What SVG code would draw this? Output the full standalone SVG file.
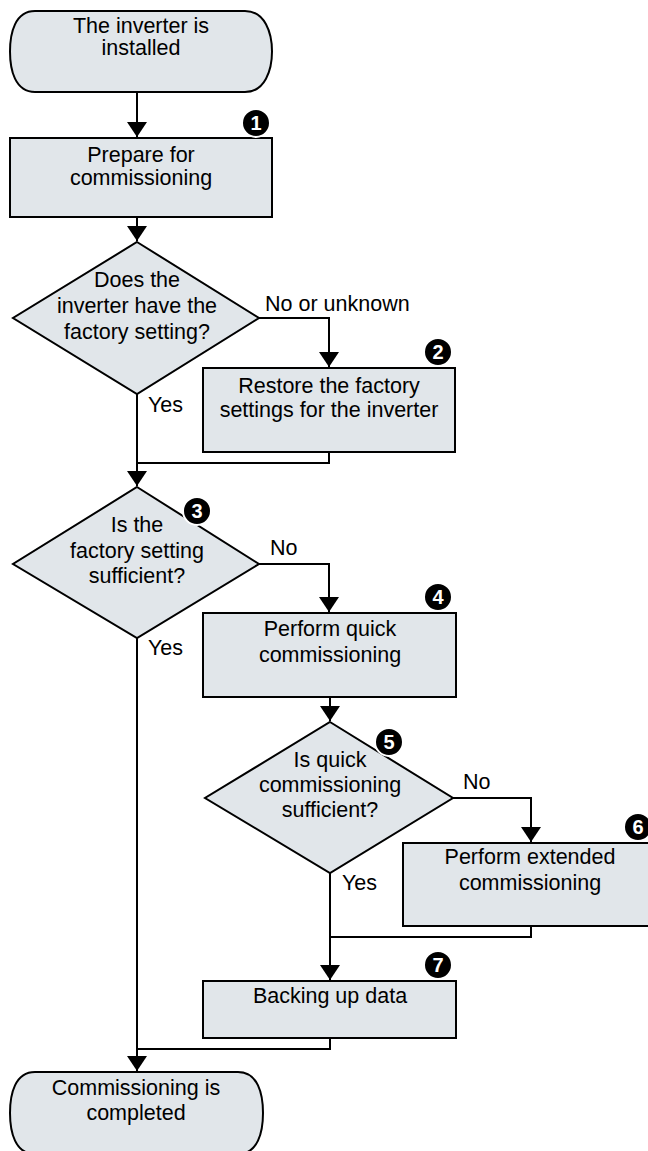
<svg xmlns="http://www.w3.org/2000/svg" width="648" height="1151" viewBox="0 0 648 1151">
<style>
.shape{fill:#e1e6ea;stroke:#000;stroke-width:2}
.t{font-family:"Liberation Sans",Arial,sans-serif;font-size:21.5px;fill:#000;text-anchor:middle}
.lbl{font-family:"Liberation Sans",Arial,sans-serif;font-size:21.5px;fill:#000}
.conn{fill:none;stroke:#000;stroke-width:2}
.badge circle{fill:#000;stroke:#fff;stroke-width:2}
.badge text{font-family:"Liberation Sans",Arial,sans-serif;font-size:20px;font-weight:bold;fill:#fff;text-anchor:middle}
</style>
<defs>
<marker id="arr" markerWidth="15" markerHeight="20" refX="15" refY="10" orient="auto" markerUnits="userSpaceOnUse" viewBox="0 0 15 20">
<path d="M0,0 L15,10 L0,20 Z" fill="#000"/>
</marker>
</defs>
<rect width="648" height="1151" fill="#fff"/>
<g id="connectors">
<path class="conn" d="M137,92 V137" marker-end="url(#arr)"/>
<path class="conn" d="M137,217 V241" marker-end="url(#arr)"/>
<path class="conn" d="M259,318 H329 V367" marker-end="url(#arr)"/>
<path class="conn" d="M137,394 V486" marker-end="url(#arr)"/>
<path class="conn" d="M329,452 V463 H137"/>
<path class="conn" d="M259,564 H329 V612" marker-end="url(#arr)"/>
<path class="conn" d="M137,638 V1071" marker-end="url(#arr)"/>
<path class="conn" d="M330,697 V721" marker-end="url(#arr)"/>
<path class="conn" d="M453,798 H531 V842" marker-end="url(#arr)"/>
<path class="conn" d="M330,873 V980" marker-end="url(#arr)"/>
<path class="conn" d="M531,926 V937 H330"/>
<path class="conn" d="M330,1038 V1049 H137"/>
<text class="lbl" x="265" y="311">No or unknown</text>
<text class="lbl" x="148" y="412">Yes</text>
<text class="lbl" x="270" y="555">No</text>
<text class="lbl" x="148" y="655">Yes</text>
<text class="lbl" x="463" y="789">No</text>
<text class="lbl" x="342" y="890">Yes</text>
</g>
<g id="start">
<path class="shape" d="M35,11 H245 C265,11 272,33 272,51.5 C272,70 265,92 245,92 H35 C15,92 10,70 10,51.5 C10,33 15,11 35,11 Z"/>
<text class="t" x="141" y="33">The inverter is</text>
<text class="t" x="141" y="55">installed</text>
</g>
<g id="step1">
<rect class="shape" x="10" y="138" width="262" height="79"/>
<text class="t" x="141" y="162">Prepare for</text>
<text class="t" x="141" y="185">commissioning</text>
<g class="badge"><circle cx="256" cy="123" r="14"/><text x="256" y="130">1</text></g>
</g>
<g id="decision1">
<path class="shape" d="M137,242 L259,318 L137,394 L13,318 Z"/>
<text class="t" x="137" y="287">Does the</text>
<text class="t" x="137" y="313">inverter have the</text>
<text class="t" x="137" y="339">factory setting?</text>
</g>
<g id="step2">
<rect class="shape" x="203" y="368" width="252" height="84"/>
<text class="t" x="329" y="393">Restore the factory</text>
<text class="t" x="329" y="417">settings for the inverter</text>
<g class="badge"><circle cx="438" cy="352" r="14"/><text x="438" y="359">2</text></g>
</g>
<g id="decision2">
<path class="shape" d="M137,487 L259,564 L137,638 L13,564 Z"/>
<text class="t" x="137" y="532">Is the</text>
<text class="t" x="137" y="558">factory setting</text>
<text class="t" x="137" y="583">sufficient?</text>
<g class="badge"><circle cx="197" cy="511" r="14"/><text x="197" y="518">3</text></g>
</g>
<g id="step4">
<rect class="shape" x="203" y="613" width="253" height="84"/>
<text class="t" x="330" y="636">Perform quick</text>
<text class="t" x="330" y="662">commissioning</text>
<g class="badge"><circle cx="438" cy="597" r="14"/><text x="438" y="604">4</text></g>
</g>
<g id="decision3">
<path class="shape" d="M330,722 L453,798 L330,873 L205,798 Z"/>
<text class="t" x="330" y="767">Is quick</text>
<text class="t" x="330" y="792">commissioning</text>
<text class="t" x="330" y="817">sufficient?</text>
<g class="badge"><circle cx="389" cy="742" r="14"/><text x="389" y="749">5</text></g>
</g>
<g id="step6">
<rect class="shape" x="403" y="843" width="253" height="83"/>
<text class="t" x="530" y="864">Perform extended</text>
<text class="t" x="530" y="890">commissioning</text>
<g class="badge"><circle cx="638" cy="827" r="14"/><text x="638" y="834">6</text></g>
</g>
<g id="step7">
<rect class="shape" x="203" y="981" width="253" height="57"/>
<text class="t" x="330" y="1003">Backing up data</text>
<g class="badge"><circle cx="438" cy="965" r="14"/><text x="438" y="972">7</text></g>
</g>
<g id="end">
<path class="shape" d="M35,1072 H238 C258,1072 263,1094 263,1113 C263,1132 258,1154 238,1154 H35 C15,1154 10,1132 10,1113 C10,1094 15,1072 35,1072 Z"/>
<text class="t" x="136" y="1095">Commissioning is</text>
<text class="t" x="136" y="1120">completed</text>
</g>
</svg>
